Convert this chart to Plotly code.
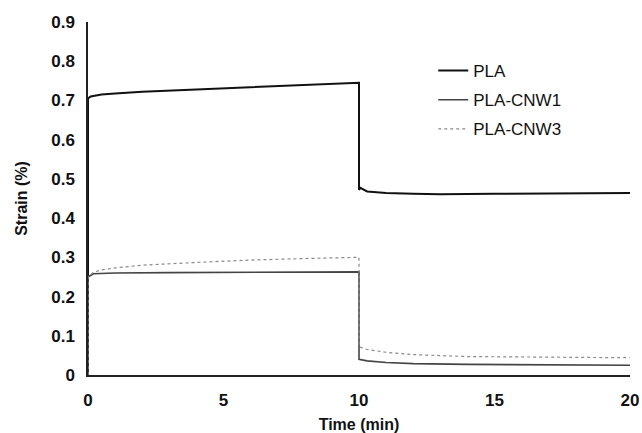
import plotly.graph_objects as go

# Data
pla_time = [0, 0, 0.1, 0.5, 1, 2, 4, 6, 8, 10, 10, 10.05, 10.3, 11, 12, 13, 15, 17, 20]
pla_strain = [0, 0.705, 0.71, 0.715, 0.718, 0.722, 0.728, 0.734, 0.739, 0.745, 0.472,
              0.477, 0.468, 0.464, 0.462, 0.461, 0.462, 0.463, 0.464]

cnw1_time = [0, 0, 0.2, 1, 3, 6, 10, 10, 10.3, 11, 12, 14, 17, 20]
cnw1_strain = [0, 0.25, 0.258, 0.26, 0.261, 0.262, 0.263, 0.04, 0.036, 0.032, 0.029,
               0.027, 0.026, 0.025]

cnw3_time = [0, 0, 0.2, 0.5, 1, 2, 4, 6, 8, 10, 10, 10.3, 11, 12, 14, 17, 20]
cnw3_strain = [0, 0.25, 0.262, 0.268, 0.273, 0.28, 0.287, 0.293, 0.297, 0.30, 0.072,
               0.065, 0.058, 0.052, 0.047, 0.045, 0.044]

x_ticks = [0, 5, 10, 15, 20]
y_ticks = [0, 0.1, 0.2, 0.3, 0.4, 0.5, 0.6, 0.7, 0.8, 0.9]
y_tick_labels = ["0", "0.1", "0.2", "0.3", "0.4", "0.5", "0.6", "0.7", "0.8", "0.9"]

fig = go.Figure()
fig.add_trace(go.Scatter(x=pla_time, y=pla_strain, mode="lines", name="PLA",
                         legendgroup="a",
                         line=dict(color="#111111", width=2)))
fig.add_trace(go.Scatter(x=cnw1_time, y=cnw1_strain, mode="lines", name="PLA-CNW1",
                         legendgroup="b",
                         line=dict(color="#444444", width=1.6)))
fig.add_trace(go.Scatter(x=cnw3_time, y=cnw3_strain, mode="lines", name="PLA-CNW3",
                         legendgroup="c",
                         line=dict(color="#8a8a8a", width=1.2, dash="dot")))

font_family = "Liberation Sans, Arial, sans-serif"
fig.update_layout(
    width=642, height=433,
    margin=dict(l=88, r=12, t=22, b=58, autoexpand=False),
    paper_bgcolor="white", plot_bgcolor="white",
    font=dict(family=font_family, color="#111111", size=15),
    legend=dict(x=0.637, y=0.912, xanchor="left", yanchor="top",
                font=dict(size=17, family=font_family, color="#111111"),
                bgcolor="rgba(0,0,0,0)", tracegroupgap=4, itemwidth=30),
    showlegend=True,
)
fig.update_xaxes(range=[0, 20], tickvals=x_ticks, showgrid=False, zeroline=False,
                 showline=True, linecolor="#222222", linewidth=1.5, ticks="",
                 automargin=False, ticklabelstandoff=9,
                 tickfont=dict(size=17, family=font_family, weight="bold"),
                 title=dict(text="<b>Time (min)</b>", font=dict(size=16), standoff=10))
fig.update_yaxes(range=[0, 0.9], tickvals=y_ticks, ticktext=y_tick_labels,
                 showgrid=False, zeroline=False,
                 showline=True, linecolor="#222222", linewidth=1.5, ticks="",
                 automargin=False, ticklabelstandoff=8,
                 tickfont=dict(size=17, family=font_family, weight="bold"),
                 title=dict(text="<b>Strain (%)</b>", font=dict(size=16), standoff=20))

fig.write_html("out.html")
